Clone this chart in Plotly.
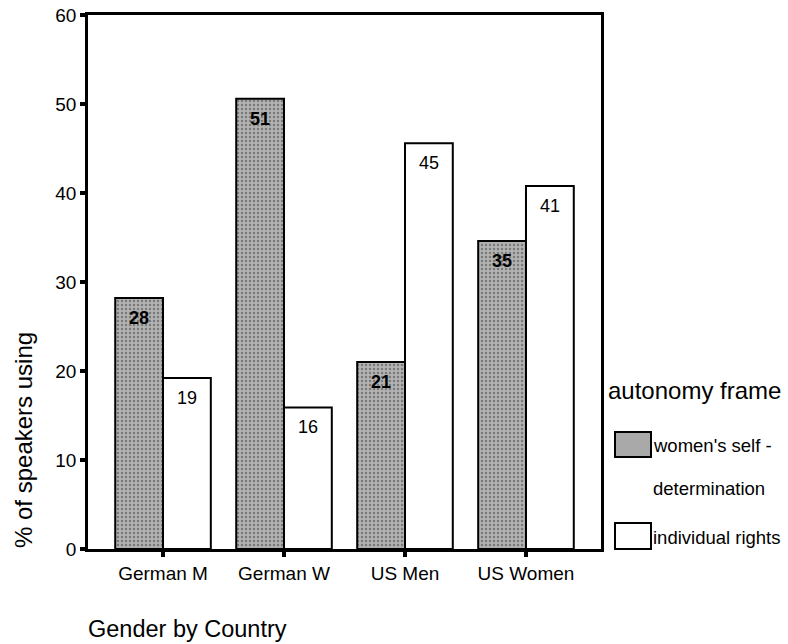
import plotly.graph_objects as go

categories = ["German M", "German W", "US Men", "US Women"]
self_det = [28.2, 50.6, 21.0, 34.6]
self_det_labels = ["28", "51", "21", "35"]
ind_rights = [19.2, 15.9, 45.6, 40.8]
ind_rights_labels = ["19", "16", "45", "41"]
y_ticks = [0, 10, 20, 30, 40, 50, 60]
legend_title = "autonomy frame"
legend_names = ["women's self -", "determination", "individual rights"]
x_title = "Gender by Country"
y_title = "% of speakers using"

FONT = "Liberation Sans, Arial, sans-serif"
GREY = "#a9a9a9"

W, H = 788, 644
L, T = 88, 15
PW, PH = 513, 534
R, B = W - L - PW, H - T - PH

fig = go.Figure()
fig.add_trace(go.Bar(
    x=categories, y=self_det, name="women's self - determination",
    marker=dict(color=GREY, line=dict(color="black", width=2),
                pattern=dict(shape=".", fgcolor="#7a7a7a", bgcolor="#b3b3b3", size=4, solidity=0.3)),
    showlegend=False,
))
fig.add_trace(go.Bar(
    x=categories, y=ind_rights, name="individual rights",
    marker=dict(color="white", line=dict(color="black", width=2)),
    showlegend=False,
))

# value labels inside bar tops
for c, v, t in zip(categories, self_det, self_det_labels):
    fig.add_annotation(x=c, y=v, xref="x", yref="y", text=t, showarrow=False,
                       xshift=-24, yshift=-20, xanchor="center", yanchor="middle",
                       font=dict(family=FONT, size=18, color="black", weight="bold"))
for c, v, t in zip(categories, ind_rights, ind_rights_labels):
    fig.add_annotation(x=c, y=v, xref="x", yref="y", text=t, showarrow=False,
                       xshift=24, yshift=-20, xanchor="center", yanchor="middle",
                       font=dict(family=FONT, size=18, color="black"))

fig.update_layout(
    template="none",
    width=W, height=H,
    margin=dict(l=L, r=R, t=T, b=B, pad=0, autoexpand=False),
    paper_bgcolor="white", plot_bgcolor="white",
    barmode="group", bargap=0.21, bargroupgap=0,
    font=dict(family=FONT, size=19, color="black"),
)
fig.update_xaxes(
    range=[-0.62, 3.62], showgrid=False, showline=True, linecolor="black", linewidth=2.5,
    mirror=True, ticks="outside", ticklen=5, tickwidth=4, tickcolor="black",
    automargin=False, ticklabeloverflow="allow",
    tickfont=dict(family=FONT, size=19, color="black"),
)
fig.update_yaxes(
    range=[0, 60], tickvals=y_ticks, showgrid=False, zeroline=False,
    showline=True, linecolor="black", linewidth=2.5, mirror=True,
    ticks="outside", ticklen=5, tickwidth=4, tickcolor="black", automargin=False,
    ticklabeloverflow="allow",
    tickfont=dict(family=FONT, size=19, color="black"),
)

# screen pixel -> paper coordinates
def px_x(px):
    return (px - L) / PW

def px_y(py):
    return (T + PH - py) / PH

fig.add_annotation(xref="paper", yref="paper", x=px_x(23), y=px_y(440),
                   xanchor="center", yanchor="middle",
                   text=y_title, textangle=-90, showarrow=False,
                   font=dict(family=FONT, size=24, color="black"))
fig.add_annotation(xref="paper", yref="paper", x=px_x(86), y=px_y(629),
                   xanchor="left", yanchor="middle", text=x_title, showarrow=False,
                   font=dict(family=FONT, size=23.5, color="black"))

# legend drawn manually
fig.add_annotation(xref="paper", yref="paper", x=px_x(606), y=px_y(390),
                   xanchor="left", yanchor="middle",
                   text=legend_title, showarrow=False,
                   font=dict(family=FONT, size=24, color="black"))
fig.add_shape(type="rect", xref="paper", yref="paper",
              x0=px_x(615), x1=px_x(651), y0=px_y(457), y1=px_y(432),
              fillcolor=GREY, line=dict(color="black", width=2))
fig.add_annotation(xref="paper", yref="paper", x=px_x(651), y=px_y(445),
                   xanchor="left", yanchor="middle",
                   text=legend_names[0], showarrow=False,
                   font=dict(family=FONT, size=18.5, color="black"))
fig.add_annotation(xref="paper", yref="paper", x=px_x(651), y=px_y(488),
                   xanchor="left", yanchor="middle",
                   text=legend_names[1], showarrow=False,
                   font=dict(family=FONT, size=18.5, color="black"))
fig.add_shape(type="rect", xref="paper", yref="paper",
              x0=px_x(615), x1=px_x(651), y0=px_y(549), y1=px_y(523),
              fillcolor="white", line=dict(color="black", width=2))
fig.add_annotation(xref="paper", yref="paper", x=px_x(651), y=px_y(537),
                   xanchor="left", yanchor="middle",
                   text=legend_names[2], showarrow=False,
                   font=dict(family=FONT, size=18.5, color="black"))

fig.write_html("out.html", config={"displayModeBar": False},
               post_script="document.body.style.margin='0';document.body.style.overflow='hidden';")
